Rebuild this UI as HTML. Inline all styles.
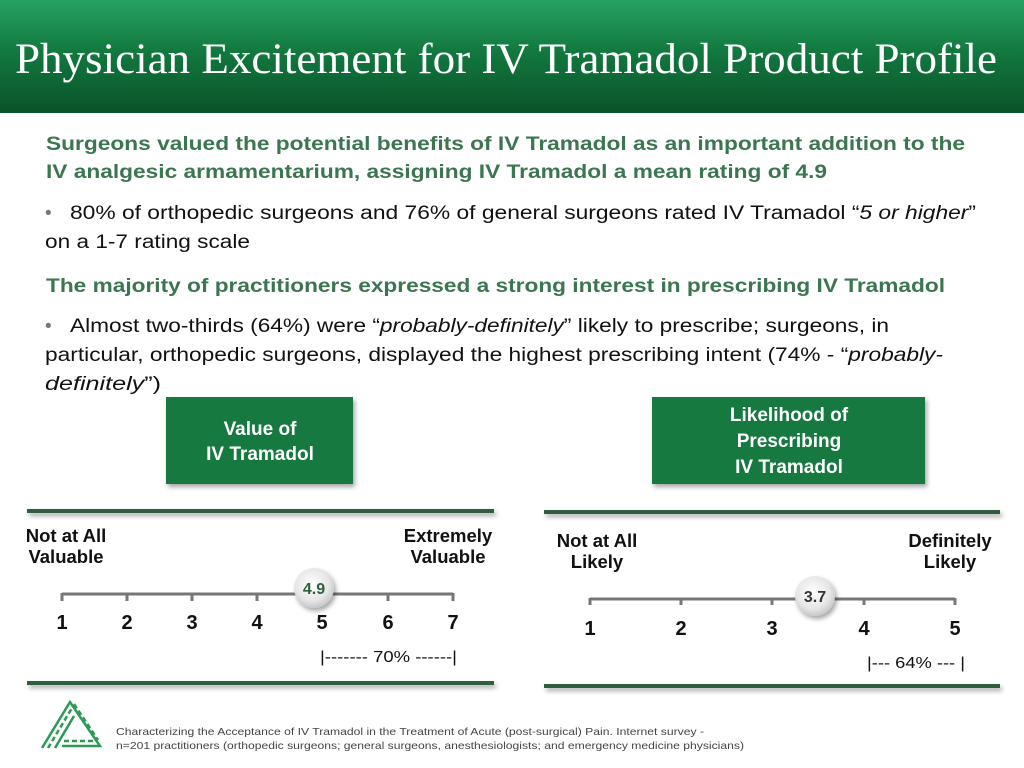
<!DOCTYPE html>
<html><head><meta charset="utf-8"><style>
html,body{margin:0;padding:0;background:#fff;}
svg{display:block;font-family:"Liberation Sans",Arial,sans-serif;}
</style></head><body>
<svg width="1024" height="768" viewBox="0 0 1024 768" xmlns="http://www.w3.org/2000/svg">
<defs>
<linearGradient id="hg" x1="0" y1="0" x2="0" y2="1">
<stop offset="0" stop-color="#27a262"/><stop offset="0.45" stop-color="#12793f"/><stop offset="1" stop-color="#0a5229"/>
</linearGradient>
<radialGradient id="cg" cx="0.45" cy="0.4" r="0.6">
<stop offset="0" stop-color="#ffffff"/><stop offset="0.7" stop-color="#e6e6e6"/><stop offset="1" stop-color="#c8c8c8"/>
</radialGradient>
<filter id="sh" x="-20%" y="-20%" width="150%" height="150%"><feDropShadow dx="2" dy="3" stdDeviation="2.5" flood-color="#000" flood-opacity="0.35"/></filter>
</defs>
<rect x="0" y="0" width="1024" height="768" fill="#fff"/>
<rect x="0" y="0" width="1024" height="113" fill="url(#hg)"/>
<text x="15" y="73" font-family="Liberation Serif,serif" font-size="43" fill="#fff" textLength="982" lengthAdjust="spacingAndGlyphs">Physician Excitement for IV Tramadol Product Profile</text>

<g font-weight="bold" font-size="19" fill="#3b7651">
<text x="46" y="150" textLength="919" lengthAdjust="spacingAndGlyphs">Surgeons valued the potential benefits of IV Tramadol as an important addition to the</text>
<text x="46" y="178" textLength="781" lengthAdjust="spacingAndGlyphs">IV analgesic armamentarium, assigning IV Tramadol a mean rating of 4.9</text>
<text x="46" y="292" textLength="899" lengthAdjust="spacingAndGlyphs">The majority of practitioners expressed a strong interest in prescribing IV Tramadol</text>
</g>
<g font-size="19" fill="#111">
<text x="45" y="219" fill="#777">•</text>
<text x="70" y="219" textLength="906" lengthAdjust="spacingAndGlyphs">80% of orthopedic surgeons and 76% of general surgeons rated IV Tramadol “<tspan font-style="italic">5 or higher</tspan>”</text>
<text x="45" y="248" textLength="205" lengthAdjust="spacingAndGlyphs">on a 1-7 rating scale</text>
<text x="45" y="332" fill="#777">•</text>
<text x="70" y="332" textLength="819" lengthAdjust="spacingAndGlyphs">Almost two-thirds (64%) were “<tspan font-style="italic">probably-definitely</tspan>” likely to prescribe; surgeons, in</text>
<text x="45" y="361" textLength="898" lengthAdjust="spacingAndGlyphs">particular, orthopedic surgeons, displayed the highest prescribing intent (74% - “<tspan font-style="italic">probably-</tspan></text>
<text x="45" y="390" textLength="116" lengthAdjust="spacingAndGlyphs"><tspan font-style="italic">definitely</tspan>”)</text>
</g>

<rect x="166" y="397" width="187" height="87" fill="#13793f" filter="url(#sh)"/>
<g font-weight="bold" font-size="19" fill="#fff" text-anchor="middle">
<text x="260" y="435">Value of</text>
<text x="260" y="460">IV Tramadol</text>
</g>
<rect x="652" y="397" width="273" height="87" fill="#13793f" filter="url(#sh)"/>
<g font-weight="bold" font-size="19" fill="#fff" text-anchor="middle">
<text x="789" y="421">Likelihood of</text>
<text x="789" y="447">Prescribing</text>
<text x="789" y="473">IV Tramadol</text>
</g>

<g fill="#2f5f3d" filter="url(#sh)">
<rect x="27" y="509" width="467" height="4"/>
<rect x="27" y="681" width="467" height="4"/>
<rect x="544" y="510" width="456" height="4"/>
<rect x="544" y="684" width="456" height="4"/>
</g>

<g font-weight="bold" font-size="18.5" fill="#111" text-anchor="middle">
<text x="66" y="542">Not at All</text>
<text x="66" y="563">Valuable</text>
<text x="448" y="542">Extremely</text>
<text x="448" y="563">Valuable</text>
</g>
<g stroke="#777" stroke-width="3" fill="none">
<line x1="62" y1="594" x2="453" y2="594"/>
<line x1="62" y1="593" x2="62" y2="601"/><line x1="127" y1="593" x2="127" y2="601"/><line x1="192" y1="593" x2="192" y2="601"/><line x1="257" y1="593" x2="257" y2="601"/><line x1="322" y1="593" x2="322" y2="601"/><line x1="388" y1="593" x2="388" y2="601"/><line x1="453" y1="593" x2="453" y2="601"/>
</g>
<g font-weight="bold" font-size="20" fill="#111" text-anchor="middle">
<text x="62" y="629">1</text><text x="127" y="629">2</text><text x="192" y="629">3</text><text x="257" y="629">4</text><text x="322" y="629">5</text><text x="388" y="629">6</text><text x="453" y="629">7</text>
</g>
<circle cx="314" cy="588" r="20" fill="url(#cg)" filter="url(#sh)"/>
<text x="314" y="594" font-weight="bold" font-size="16" fill="#2f5f3d" text-anchor="middle">4.9</text>
<text x="320" y="662" font-size="16" fill="#111" textLength="137" lengthAdjust="spacingAndGlyphs">|------- 70% ------|</text>

<g font-weight="bold" font-size="18.5" fill="#111" text-anchor="middle">
<text x="597" y="547">Not at All</text>
<text x="597" y="568">Likely</text>
<text x="950" y="547">Definitely</text>
<text x="950" y="568">Likely</text>
</g>
<g stroke="#777" stroke-width="3" fill="none">
<line x1="590" y1="599" x2="955" y2="599"/>
<line x1="590" y1="598" x2="590" y2="605"/><line x1="681" y1="598" x2="681" y2="605"/><line x1="772" y1="598" x2="772" y2="605"/><line x1="864" y1="598" x2="864" y2="605"/><line x1="955" y1="598" x2="955" y2="605"/>
</g>
<g font-weight="bold" font-size="20" fill="#111" text-anchor="middle">
<text x="590" y="635">1</text><text x="681" y="635">2</text><text x="772" y="635">3</text><text x="864" y="635">4</text><text x="955" y="635">5</text>
</g>
<circle cx="815" cy="596" r="20" fill="url(#cg)" filter="url(#sh)"/>
<text x="815" y="602" font-weight="bold" font-size="16" fill="#333" text-anchor="middle">3.7</text>
<text x="867" y="668" font-size="16" fill="#111" textLength="98" lengthAdjust="spacingAndGlyphs">|--- 64%  --- |</text>

<g stroke="#2a9a55" stroke-width="2.5" fill="none">
<path d="M42 748 L70 702 L100 746 L62 746"/>
<path d="M48 748 L72 708" stroke-dasharray="5 3"/>
<path d="M74 704 L98 740" stroke-dasharray="5 3"/>
<path d="M64 741 L94 741" stroke-dasharray="5 3"/>
<path d="M55 748 L74 716"/>
</g>
<g font-size="10.5" fill="#444">
<text x="116" y="735" textLength="588" lengthAdjust="spacingAndGlyphs">Characterizing the Acceptance of IV Tramadol in the Treatment of Acute (post-surgical) Pain. Internet survey -</text>
<text x="116" y="749" textLength="628" lengthAdjust="spacingAndGlyphs">n=201 practitioners (orthopedic surgeons; general surgeons, anesthesiologists; and emergency medicine physicians)</text>
</g>
</svg>
</body></html>
